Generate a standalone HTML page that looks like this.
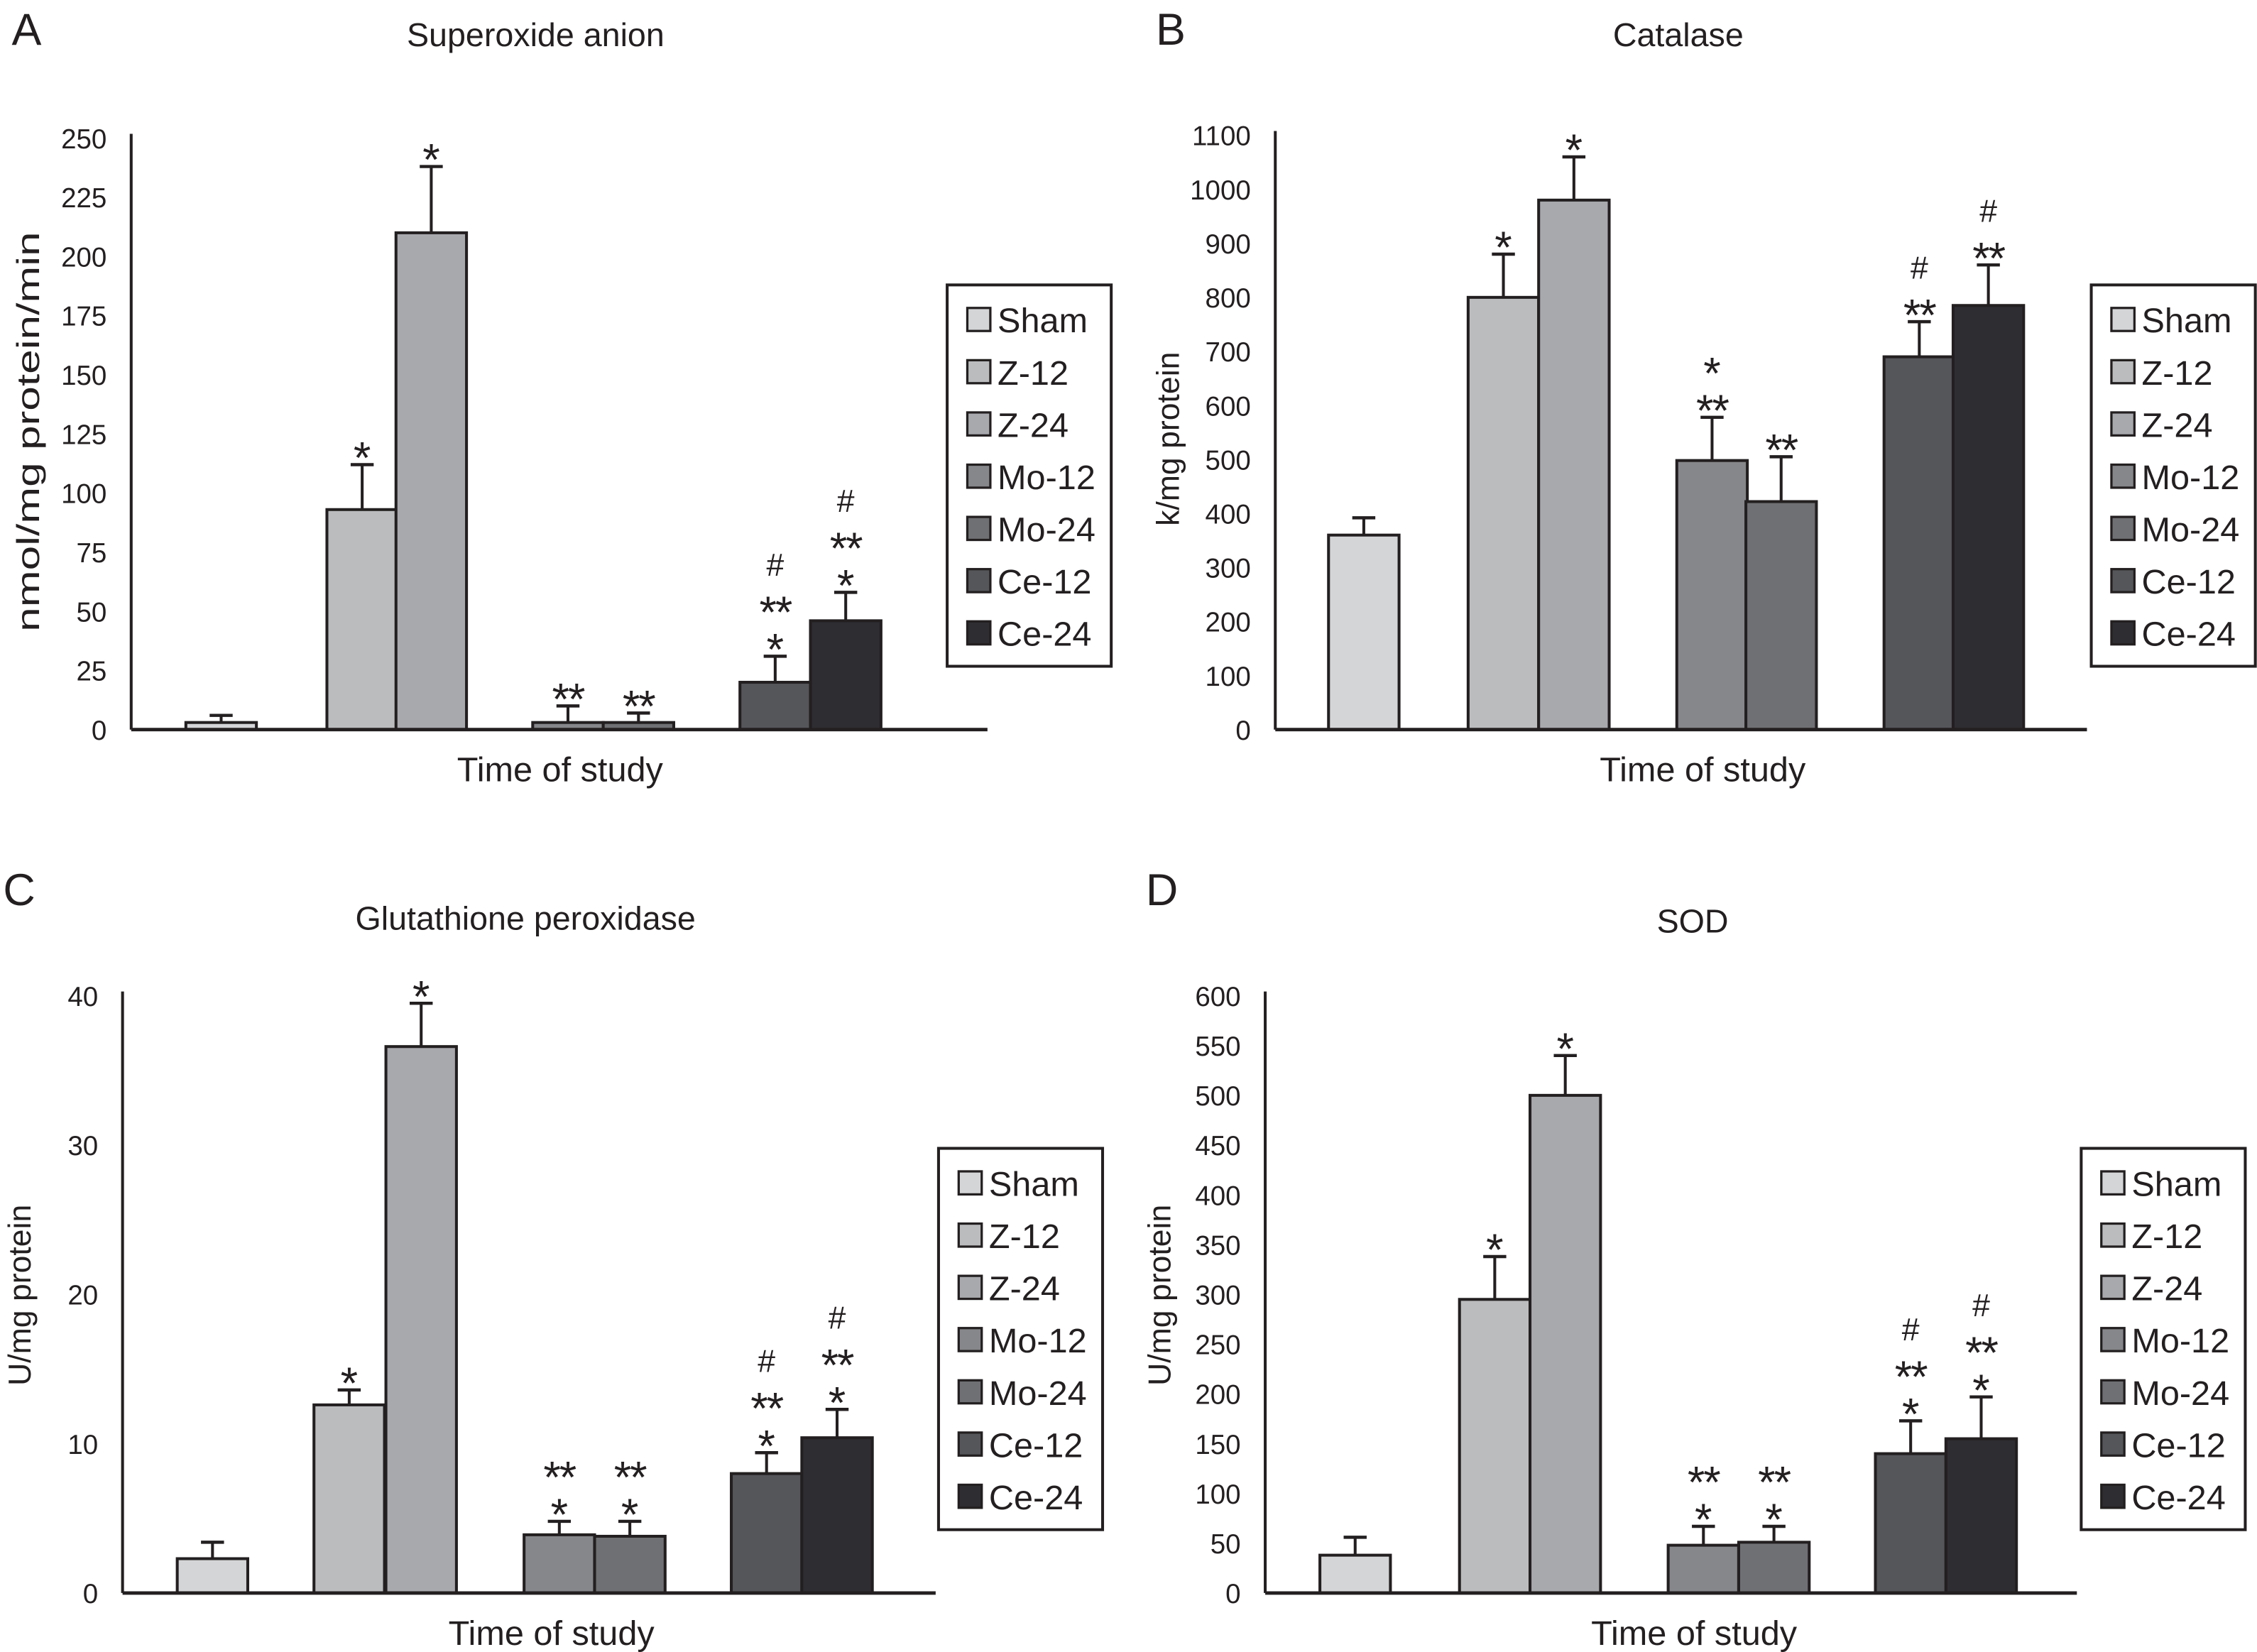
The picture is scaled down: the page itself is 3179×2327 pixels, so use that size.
<!DOCTYPE html>
<html><head><meta charset="utf-8">
<style>
html,body{margin:0;padding:0;background:#fff;}
svg{display:block;}
text{font-family:"Liberation Sans",sans-serif;fill:#231f20;}
</style></head>
<body>
<svg id="fig" width="3179" height="2327" viewBox="0 0 1568 1148" xmlns="http://www.w3.org/2000/svg"></svg>
<script>
const groups = ["Sham","Z-12","Z-24","Mo-12","Mo-24","Ce-12","Ce-24"];
const colors = ["#d4d5d7","#bbbcbe","#a8a9ad","#86878a","#6f7073","#55565a","#2e2d31"];
const valuesA = [3,93,210,3,3,20,46];
const errA = [6,112,238,10,7,31,58];
const valuesB = [360,800,980,498,422,690,785];
const errB = [392,880,1060,578,505,755,860];
const valuesC = [2.3,12.6,36.6,3.9,3.8,8.0,10.4];
const errC = [3.4,13.6,39.5,4.8,4.8,9.4,12.3];
const valuesD = [38,295,500,48,51,140,155];
const errD = [56,338,540,67,67,173,197];
const ticksA = [0,25,50,75,100,125,150,175,200,225,250];
const ticksB = [0,100,200,300,400,500,600,700,800,900,1000,1100];
const ticksC = [0,10,20,30,40];
const ticksD = [0,50,100,150,200,250,300,350,400,450,500,550,600];
const annA = [[],["*"],["*"],["**"],["**"],["*","**","#"],["*","**","#"]];
const annB = [[],["*"],["*"],["**","*"],["**"],["**","#"],["**","#"]];
const annC = [[],["*"],["*"],["*","**"],["*","**"],["*","**","#"],["*","**","#"]];
const annD = [[],["*"],["*"],["*","**"],["*","**"],["*","**","#"],["*","**","#"]];

const NS="http://www.w3.org/2000/svg";
const svg=document.getElementById('fig');
function mk(tag,attrs,parent,txt){const e=document.createElementNS(NS,tag);for(const k in attrs)e.setAttribute(k,attrs[k]);if(txt!==undefined)e.textContent=txt;(parent||svg).appendChild(e);return e;}

const panels=[
 {id:"a",letter:"A",lx:8,ly:31,title:"Superoxide anion",tx:372,ty:32,ax:91,ay0:507,ayTop:96,max:250,axEnd:686,ticks:ticksA,vals:valuesA,errs:errA,ann:annA,
  bx:[129,227,275,370,419,514,563],ylab:"nmol/mg protein/min",ylen:278,ylx:27,yly:300,xlx:389,xly:543,leg:[658,198]},
 {id:"b",letter:"B",lx:803,ly:31,title:"Catalase",tx:1166,ty:32,ax:886,ay0:507,ayTop:94,max:1100,axEnd:1450,ticks:ticksB,vals:valuesB,errs:errB,ann:annB,
  bx:[923,1020,1069,1165,1213,1309,1357],ylab:"k/mg protein",ylen:0,ylx:819,yly:305,xlx:1183,xly:543,leg:[1453,198]},
 {id:"c",letter:"C",lx:2,ly:629,title:"Glutathione peroxidase",tx:365,ty:646,ax:85,ay0:1107,ayTop:692,max:40,axEnd:650,ticks:ticksC,vals:valuesC,errs:errC,ann:annC,
  bx:[123,218,268,364,413,508,557],ylab:"U/mg protein",ylen:0,ylx:21,yly:900,xlx:383,xly:1143,leg:[652,798]},
 {id:"d",letter:"D",lx:796,ly:629,title:"SOD",tx:1176,ty:648,ax:879,ay0:1107,ayTop:692,max:600,axEnd:1443,ticks:ticksD,vals:valuesD,errs:errD,ann:annD,
  bx:[917,1014,1063,1159,1208,1303,1352],ylab:"U/mg protein",ylen:0,ylx:813,yly:900,xlx:1177,xly:1143,leg:[1446,798]}
];
const BW=49;
panels.forEach(p=>{
  const g=mk('g',{});
  
  
  const y=v=>p.ay0-(v/p.max)*(p.ay0-p.ayTop);
  let t=mk('text',{x:p.lx,y:p.ly,'font-size':31},g,p.letter);
  
  t=mk('text',{x:p.tx,y:p.ty,'font-size':23,'text-anchor':'middle'},g,p.title);
  
  p.ticks.forEach(v=>{
    const tt=mk('text',{x:p.ax-17,y:y(v)+7,'font-size':19,'text-anchor':'end'},g,String(v));
    
  });
  p.vals.forEach((v,i)=>{
    const x0=p.bx[i], cx=x0+BW/2, yt=y(v), ye=y(p.errs[i]);
    const el=mk('line',{x1:cx,x2:cx,y1:yt,y2:ye,stroke:'#231f20','stroke-width':2},g);
    
    mk('line',{x1:cx-8,x2:cx+8,y1:ye,y2:ye,stroke:'#231f20','stroke-width':2.2},g);
    const r=mk('rect',{x:x0,y:yt,width:BW,height:p.ay0-yt,fill:colors[i],stroke:'#231f20','stroke-width':2},g);
    
    p.ann[i].forEach((s,k)=>{
      const base=ye-k*26;
      const a=mk('text',{x:cx,y:s==='#'?base-4:base+6,'font-size':s==='#'?22:31,'text-anchor':'middle','letter-spacing':s==='**'?'-1':'0'},g,s);
      
    });
  });
  let ln=mk('line',{x1:p.ax,x2:p.ax,y1:p.ayTop-3,y2:p.ay0,stroke:'#231f20','stroke-width':2},g);
  
  ln=mk('line',{x1:p.ax,x2:p.axEnd,y1:p.ay0,y2:p.ay0,stroke:'#231f20','stroke-width':2.4},g);
  
  t=mk('text',{x:p.xlx,y:p.xly,'font-size':24,'text-anchor':'middle'},g,'Time of study');
  
  const ya={x:p.ylx,y:p.yly,'font-size':22,'text-anchor':'middle',transform:`rotate(-90 ${p.ylx} ${p.yly})`};
  if(p.ylen){ya.textLength=p.ylen;ya.lengthAdjust='spacingAndGlyphs';}
  t=mk('text',ya,g,p.ylab);
  
  const [lx,ly]=p.leg;
  const lg=mk('g',{},g);
  
  mk('rect',{x:lx,y:ly,width:114,height:265,fill:'#fff',stroke:'#231f20','stroke-width':2},lg);
  groups.forEach((n,i)=>{
    const yy=ly+24+i*36.3;
    const e=mk('g',{},lg);
    
    mk('rect',{x:lx+14,y:yy-8,width:16,height:16,fill:colors[i],stroke:'#231f20','stroke-width':1.6},e);
    mk('text',{x:lx+35,y:yy+9,'font-size':24},e,n);
  });
});
</script>
</body></html>
